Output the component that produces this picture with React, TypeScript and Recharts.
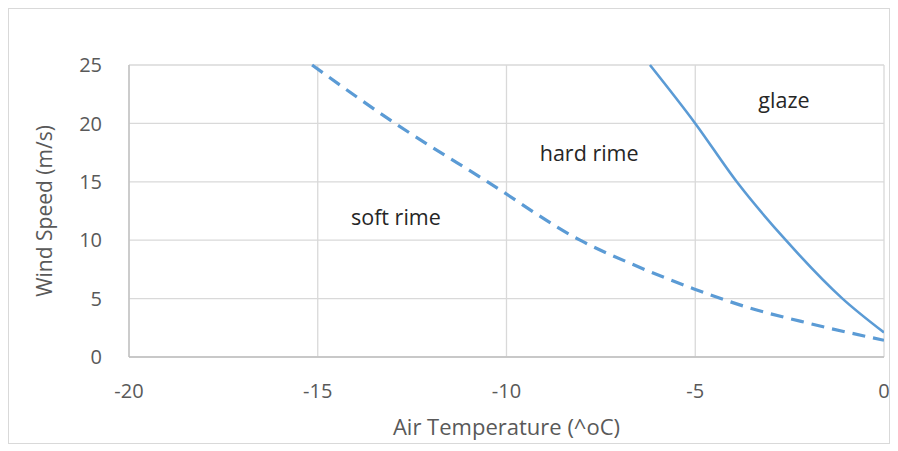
import { LineChart, Line, XAxis, YAxis, CartesianGrid, ReferenceDot, Label } from 'recharts';

// boundary between soft rime and hard rime (dashed)
const softHardTemp = [-15.15, -12.95, -10.5, -8.05, -6.6, -5.05, -3.64, -1.96, 0];
const softHardSpeed = [25, 20, 15, 10, 7.85, 5.85, 4.28, 2.86, 1.43];

// boundary between hard rime and glaze (solid)
const hardGlazeTemp = [-6.2, -5.0, -3.9, -2.6, -1.1, 0];
const hardGlazeSpeed = [25, 20, 15, 10, 5, 2.1];

const xTicks = [-20, -15, -10, -5, 0];
const yTicks = [0, 5, 10, 15, 20, 25];

const regionNames = ['soft rime', 'hard rime', 'glaze'];
const regionTemp = [-12.93, -7.81, -2.65];
const regionSpeed = [11.95, 17.4, 22.0];

const dashedData = softHardTemp.map((temp, i) => ({ temp, speed: softHardSpeed[i] }));
const solidData = hardGlazeTemp.map((temp, i) => ({ temp, speed: hardGlazeSpeed[i] }));

const FONT = '"Open Sans", sans-serif';
const lineColor = '#5b9bd5';
const gridColor = '#d9d9d9';
const tickStyle = { fill: '#595959', fontSize: 20, fontFamily: FONT };

const YTitle = ({ viewBox }: any) => {
  const cx = 35;
  const cy = viewBox.y + viewBox.height / 2;
  return (
    <text
      x={cx}
      y={cy}
      transform={`rotate(-90 ${cx} ${cy})`}
      textAnchor="middle"
      dominantBaseline="central"
      fill="#595959"
      fontSize={21}
      fontFamily={FONT}
    >
      Wind Speed (m/s)
    </text>
  );
};

export default function App() {
  return (
    <div style={{ width: 880, height: 434, border: `1px solid ${gridColor}`, background: '#fff' }}>
      <LineChart width={880} height={434} margin={{ top: 56, right: 5, bottom: 0, left: 0 }}>
        <CartesianGrid stroke={gridColor} strokeWidth={1.3} />
        <XAxis
          dataKey="temp"
          type="number"
          domain={[-20, 0]}
          ticks={xTicks}
          height={86}
          tickSize={0}
          tickMargin={27}
          axisLine={{ stroke: '#bfbfbf', strokeWidth: 1.3 }}
          tick={tickStyle}
          allowDataOverflow
        >
          <Label
            value="Air Temperature (^oC)"
            position="insideBottom"
            offset={8}
            style={{ fill: '#595959', fontSize: 22, fontFamily: FONT }}
          />
        </XAxis>
        <YAxis
          type="number"
          domain={[0, 25]}
          ticks={yTicks}
          width={120}
          tickSize={0}
          tickMargin={27}
          axisLine={{ stroke: '#bfbfbf', strokeWidth: 1.3 }}
          tick={tickStyle}
          label={<YTitle />}
        />
        <Line
          data={dashedData}
          dataKey="speed"
          type="monotone"
          stroke={lineColor}
          strokeWidth={3.2}
          strokeDasharray="13 8"
          dot={false}
          isAnimationActive={false}
        />
        <Line
          data={solidData}
          dataKey="speed"
          type="monotone"
          stroke={lineColor}
          strokeWidth={2.6}
          dot={false}
          isAnimationActive={false}
        />
        {regionNames.map((name, i) => (
          <ReferenceDot
            key={name}
            x={regionTemp[i]}
            y={regionSpeed[i]}
            r={0}
            stroke="none"
            fill="none"
            label={{
              value: name,
              position: 'center',
              fill: '#262626',
              fontSize: 21.5,
              fontFamily: FONT,
            }}
          />
        ))}
      </LineChart>
    </div>
  );
}
